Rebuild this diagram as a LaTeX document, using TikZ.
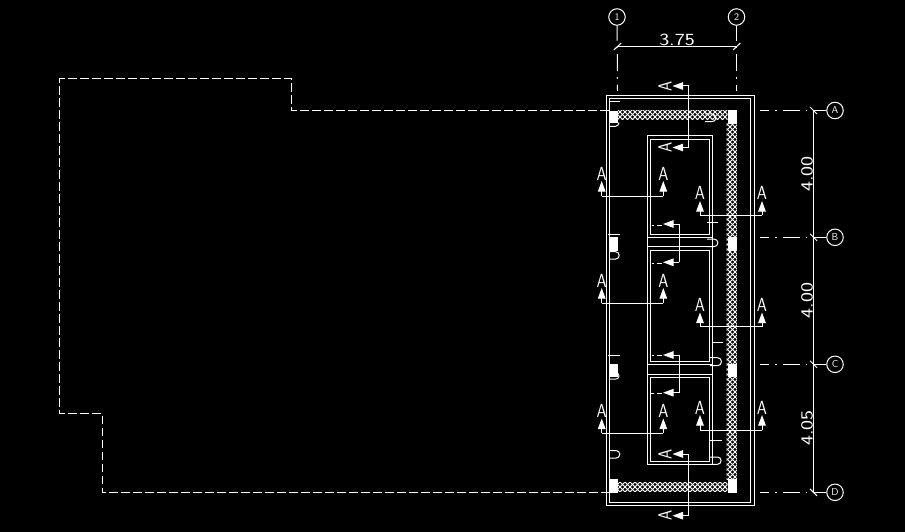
\documentclass[tikz,border=0pt]{standalone}
\usetikzlibrary{arrows.meta,patterns}
\pgfdeclarepatternformonly{wallhatch}{\pgfqpoint{-1pt}{-1pt}}{\pgfqpoint{6pt}{6pt}}{\pgfqpoint{5pt}{5pt}}{
  \pgfsetlinewidth{1pt}
  \pgfpathmoveto{\pgfqpoint{-1pt}{-1pt}}
  \pgfpathlineto{\pgfqpoint{6pt}{6pt}}
  \pgfpathmoveto{\pgfqpoint{-1pt}{6pt}}
  \pgfpathlineto{\pgfqpoint{6pt}{-1pt}}
  \pgfusepath{stroke}}
\newcommand{\widedigits}[1]{\scalebox{1.25}[1]{#1}}
\newcommand{\secletter}{\scalebox{.85}[1]{A}}

\begin{document}
\begin{tikzpicture}[x=1pt,y=-1pt,line width=1pt,white,
  outline/.style={dash pattern=on 8.7pt off 3.3pt},
  gridline/.style={dash pattern=on 17pt off 6pt on 1.5pt off 6pt},
  bubble/.style={draw,circle,inner sep=0pt,minimum size=16.5pt,font=\fontsize{10}{10}\sffamily},
  dimtext/.style={font=\fontsize{17}{17}\sffamily,inner sep=0pt},
  secmark/.style={font=\fontsize{19}{19}\sffamily,inner sep=.5pt,text height=13pt,text depth=0pt},
  sectip/.style={-{Triangle[length=10.5pt,width=7.5pt]}},
  hatch/.style={pattern=wallhatch,pattern color=white},
  column/.style={fill=white}]
\fill[black] (0,0) rectangle (905,532);
\useasboundingbox (0,0) rectangle (905,532);

\node[bubble] (g1) at (617,17)    {1};
\node[bubble] (g2) at (736.5,17)  {2};
\node[bubble] (ga) at (835,110.5) {A};
\node[bubble] (gb) at (835,237.3) {B};
\node[bubble] (gc) at (835,364.3) {C};
\node[bubble] (gd) at (835,492.3) {D};

\coordinate (g1e) at (617.5,91);
\coordinate (g2e) at (736.5,91);
\coordinate (d1)  at (617.5,46.5);
\coordinate (d2)  at (736.5,46.5);
\coordinate (ra)  at (760,110.5);
\coordinate (rb)  at (760,237.3);
\coordinate (rc)  at (760,364.3);
\coordinate (rd)  at (760,492.3);
\coordinate (da)  at (813.3,110.5);
\coordinate (db)  at (813.3,237.3);
\coordinate (dc)  at (813.3,364.3);
\coordinate (dd)  at (813.3,492.3);

\draw[gridline,dash phase=2pt] (g1) -- (g1e);
\draw[gridline,dash phase=2pt] (g2) -- (g2e);
\draw[gridline,dash phase=7.7pt] (ra) -- (ga);
\draw[gridline,dash phase=7.7pt] (rb) -- (gb);
\draw[gridline,dash phase=7.7pt] (rc) -- (gc);
\draw[gridline,dash phase=7.7pt] (rd) -- (gd);

\draw (d1) -- (d2);
\draw (da) -- (dd);
\draw (613.8,50) -- (621.2,43);
\draw (733,50)   -- (740.4,43);
\draw (810,107)  -- (817,114);
\draw (810,233.8) -- (817,240.8);
\draw (810,360.8) -- (817,367.8);
\draw (810,488.8) -- (817,495.8);

\node[dimtext] (w1) at (677,40) {\widedigits{3.75}};
\node[dimtext,rotate=90] (h1) at (807,174)   {\widedigits{4.00}};
\node[dimtext,rotate=90] (h2) at (807,300.5) {\widedigits{4.00}};
\node[dimtext,rotate=90] (h3) at (807,428)   {\widedigits{4.05}};

\draw[outline] (609,110.5) -- (291.5,110.5) -- (291.5,79) -- (59.5,79)
  -- (59.5,413) -- (102,413) -- (102,492.3) -- (609,492.3);

\draw (606.5,95.5) rectangle (754.6,505.6);
\draw (609.5,99)   rectangle (750.6,502.2);

\fill[hatch] (618,110.7) rectangle (727.7,120);
\fill[hatch] (618,482.3) rectangle (727.7,491.7);
\fill[hatch] (726.7,124) rectangle (736.8,479);
\fill[column] (609,110.7) rectangle (618.2,123);
\fill[column] (727.7,110.5) rectangle (737,124);
\fill[column] (609,236.7) rectangle (618.2,251);
\fill[column] (727.7,236.7) rectangle (737,251);
\fill[column] (609,364) rectangle (618.2,377);
\fill[column] (727.7,364) rectangle (737,377);
\fill[column] (609,479) rectangle (618.2,493);
\fill[column] (727.7,479) rectangle (737,493);

\draw (647.3,136) rectangle (712.3,464.3);
\draw (650.3,139.5) rectangle (709.3,234.3);
\draw (650.3,250.3) rectangle (709.3,361.7);
\draw (650.3,377) rectangle (709.3,461);
\draw (647.3,237.7) -- (712.3,237.7);
\draw (647.3,246.7) -- (712.3,246.7);
\draw (647.3,364.3) -- (712.3,364.3);
\draw (647.3,374)   -- (712.3,374);

\draw (609.5,101.5) -- (620,101.5);
\draw (609.5,126.5) -- (615,126.5) arc (90:0:4);
\draw (608,234.7) -- (620,234.7);
\draw (609.5,251.7) -- (615.5,251.7) arc (-90:90:3.7) -- (609.5,259);
\draw (608,355.7) -- (620,355.7);
\draw (609.5,373) -- (616,373) arc (-90:90:3) -- (609.5,379);
\draw (609.5,450.5) -- (616,450.5) arc (-90:90:3.8) -- (609.5,458);
\draw (705,98.3) -- (716.7,98.3);
\draw (705,114) -- (712,114) arc (-90:90:3.85) -- (705,121.7);
\draw (707,239) -- (714,239) arc (-90:90:3.85) -- (707,246.7);
\draw (710,357.7) -- (717.5,357.7) arc (-90:90:4) -- (710,365.7);
\draw (710,457) -- (717.5,457) arc (-90:90:3.65) -- (710,464.3);
\draw (707.3,222.7) -- (718.3,222.7);
\draw (711.7,342)   -- (722.7,342);
\draw (710,440.3)   -- (721.7,440.3);

\node[secmark,rotate=90] (st1) at (665,86)    {\secletter};
\node[secmark,rotate=90] (st2) at (665,147.5) {\secletter};
\node[secmark,rotate=90] (st3) at (665,454)   {\secletter};
\node[secmark,rotate=90] (st4) at (665,515.7) {\secletter};
\coordinate (st1c) at (688.7,86);
\coordinate (st2c) at (688.7,147.5);
\coordinate (st3c) at (688.7,454);
\coordinate (st4c) at (688.7,515.7);
\draw (st1c) -- (st2c);
\draw (st3c) -- (st4c);
\path[sectip]
(st1c) edge (st1.south)
(st2c) edge (st2.south)
(st3c) edge (st3.south)
(st4c) edge (st4.south);

\node[secmark] (la1) at (601.7,173.5) {\secletter};
\node[secmark] (la2) at (663.3,173.5) {\secletter};
\node[secmark] (lb1) at (601.7,280.5) {\secletter};
\node[secmark] (lb2) at (663.3,280.5) {\secletter};
\node[secmark] (lc1) at (601.7,411)   {\secletter};
\node[secmark] (lc2) at (663.3,411)   {\secletter};
\coordinate (la1c) at (601.7,196);
\coordinate (la2c) at (663.3,196);
\coordinate (lb1c) at (601.7,303.3);
\coordinate (lb2c) at (663.3,303.3);
\coordinate (lc1c) at (601.7,433.3);
\coordinate (lc2c) at (663.3,433.3);
\draw (la1c) -- (la2c);
\draw (lb1c) -- (lb2c);
\draw (lc1c) -- (lc2c);
\path[sectip]
(la1c) edge (la1.south)
(la2c) edge (la2.south)
(lb1c) edge (lb1.south)
(lb2c) edge (lb2.south)
(lc1c) edge (lc1.south)
(lc2c) edge (lc2.south);

\node[secmark] (ra1) at (700,193.5) {\secletter};
\node[secmark] (ra2) at (762,193.5) {\secletter};
\node[secmark] (rb1) at (700,305)   {\secletter};
\node[secmark] (rb2) at (762,305)   {\secletter};
\node[secmark] (rc1) at (700,407.5) {\secletter};
\node[secmark] (rc2) at (762,407.5) {\secletter};
\coordinate (ra1c) at (700,215.3);
\coordinate (ra2c) at (762,215.3);
\coordinate (rb1c) at (700,326.7);
\coordinate (rb2c) at (762,326.7);
\coordinate (rc1c) at (700,430.3);
\coordinate (rc2c) at (762,430.3);
\draw (ra1c) -- (ra2c);
\draw (rb1c) -- (rb2c);
\draw (rc1c) -- (rc2c);
\path[sectip]
(ra1c) edge (ra1.south)
(ra2c) edge (ra2.south)
(rb1c) edge (rb1.south)
(rb2c) edge (rb2.south)
(rc1c) edge (rc1.south)
(rc2c) edge (rc2.south);

\coordinate (ma1) at (679.3,224);
\coordinate (ma2) at (679.3,262.3);
\coordinate (mb1) at (679.3,355);
\coordinate (mb2) at (679.3,392.7);
\coordinate (ma1t) at (663,224);
\coordinate (ma2t) at (663,262.3);
\coordinate (mb1t) at (663,355);
\coordinate (mb2t) at (663,392.7);
\draw (ma1) -- (ma2);
\draw (mb1) -- (mb2);
\path[sectip]
(ma1) edge (ma1t)
(ma2) edge (ma2t)
(mb1) edge (mb1t)
(mb2) edge (mb2t);
\draw (652.3,225) -- (654,225) (657,225) -- (661.7,225);
\draw (652.3,263.3) -- (654,263.3) (657,263.3) -- (661.7,263.3);
\draw (652.3,355) -- (654,355) (657,355) -- (661.7,355);
\draw (651,393) -- (654,393) (657,393) -- (661.7,393);
\end{tikzpicture}
\end{document}
